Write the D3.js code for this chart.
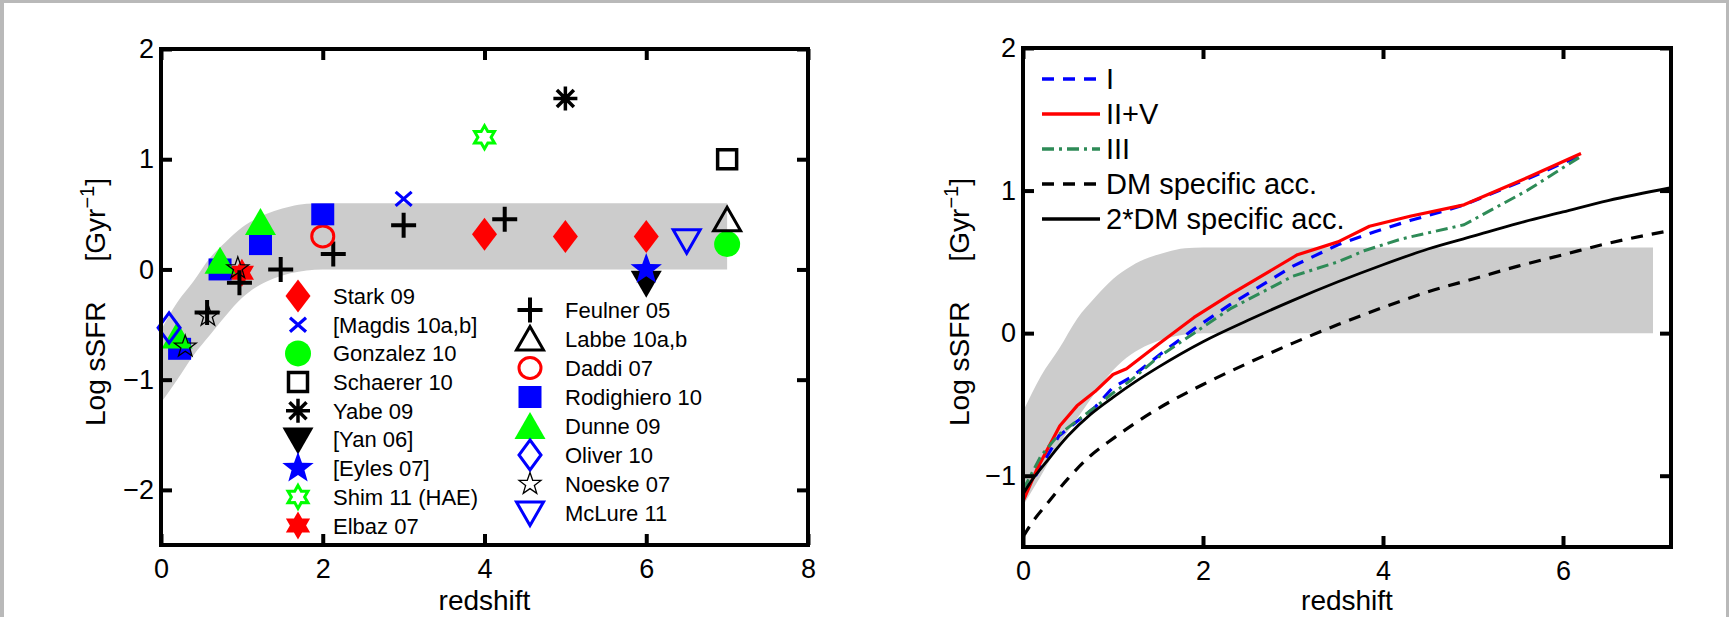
<!DOCTYPE html>
<html><head><meta charset="utf-8">
<script src="https://cdn.jsdelivr.net/npm/d3@7"></script>
<style>
html,body{margin:0;padding:0;background:#fff;}
svg{display:block;font-family:"Liberation Sans",Arial,sans-serif;}
</style></head>
<body>
<svg id="chart" width="1729" height="617"></svg>
<script>
// ---------------- DATA ----------------
// shaded band (same in both panels)
const bandZ  = [0, 0.2, 0.4, 0.6, 0.8, 1.0, 1.2, 1.4, 1.6, 1.8, 2.0, 7.0];
const bandHi = [-0.55, -0.3, -0.11, 0.1, 0.25, 0.38, 0.47, 0.53, 0.57, 0.595, 0.6, 0.6];
const bandLo = [-1.21, -1.0, -0.78, -0.6, -0.42, -0.26, -0.15, -0.08, -0.035, -0.01, 0, 0];

// left panel: observations (redshift, log sSFR)
const starkZ = [4, 5, 6],            starkV = [0.32, 0.30, 0.30];
const magdisZ = [3],                 magdisV = [0.64];
const gonzalezZ = [7],               gonzalezV = [0.23];
const schaererZ = [7],               schaererV = [1.0];
const yabeZ = [5],                   yabeV = [1.55];
const yanZ = [6],                    yanV = [-0.12];
const eylesZ = [6],                  eylesV = [0.0];
const shimZ = [4],                   shimV = [1.2];
const elbazZ = [1.0],                elbazV = [-0.03];
const feulnerZ = [0.57, 0.97, 1.48, 2.13, 3.0, 4.25];
const feulnerV = [-0.39, -0.12, 0.0, 0.14, 0.40, 0.455];
const labbeZ = [7],                  labbeV = [0.45];
const daddiZ = [2],                  daddiV = [0.3];
const rodZ = [0.23, 0.73, 1.23, 2.0], rodV = [-0.72, 0.0, 0.23, 0.5];
const dunneZ = [0.2, 0.73, 1.23],    dunneV = [-0.6, 0.08, 0.43];
const oliverZ = [0.1],               oliverV = [-0.53];
const noeskeZ = [0.3, 0.58, 0.95],   noeskeV = [-0.7, -0.42, 0.01];
const mclureZ = [6.5],               mclureV = [0.26];

const legendCol1 = ["Stark 09", "[Magdis 10a,b]", "Gonzalez 10", "Schaerer 10", "Yabe 09", "[Yan 06]", "[Eyles 07]", "Shim 11 (HAE)", "Elbaz 07"];
const legendCol2 = ["Feulner 05", "Labbe 10a,b", "Daddi 07", "Rodighiero 10", "Dunne 09", "Oliver 10", "Noeske 07", "McLure 11"];

// right panel: model curves
const modelIZ = [0, 0.15, 0.4, 0.8, 1.0, 1.2, 1.5, 1.9, 2.3, 3.0, 3.5, 3.9, 4.3, 4.7, 4.9, 5.6, 6.2];
const modelIV = [-1.12, -0.99, -0.72, -0.52, -0.38, -0.31, -0.16, 0.03, 0.2, 0.47, 0.62, 0.71, 0.79, 0.86, 0.9, 1.08, 1.25];
const modelIIZ = [0, 0.15, 0.41, 0.6, 0.8, 1.0, 1.15, 1.5, 1.9, 2.3, 3.05, 3.5, 3.85, 4.3, 4.9, 5.6, 6.2];
const modelIIV = [-1.18, -0.96, -0.65, -0.51, -0.41, -0.29, -0.25, -0.08, 0.11, 0.27, 0.55, 0.64, 0.75, 0.82, 0.9, 1.09, 1.26];
const modelIIIZ = [0, 0.2, 0.4, 0.8, 1.0, 1.2, 1.5, 1.9, 2.3, 3.0, 3.5, 3.8, 4.2, 4.9, 5.6, 6.2];
const modelIIIV = [-1.1, -0.86, -0.71, -0.52, -0.42, -0.33, -0.17, 0.0, 0.17, 0.4, 0.5, 0.58, 0.66, 0.76, 1.0, 1.24];
const dmZ  = [0, 0.1, 0.25, 0.5, 0.75, 1.0, 1.25, 1.5, 2.0, 2.5, 3.0, 3.5, 4.0, 4.5, 5.0, 5.5, 6.0, 6.5, 7.2];
const dmV  = [-1.43, -1.33, -1.21, -1.02, -0.86, -0.74, -0.63, -0.53, -0.36, -0.21, -0.07, 0.06, 0.18, 0.29, 0.38, 0.47, 0.55, 0.63, 0.72];
const dm2V = [-1.13, -1.03, -0.91, -0.72, -0.57, -0.45, -0.34, -0.24, -0.06, 0.09, 0.23, 0.36, 0.48, 0.59, 0.68, 0.77, 0.85, 0.93, 1.02];
const modelNames = ["I", "II+V", "III", "DM specific acc.", "2*DM specific acc."];

const leftXTicks = [0, 2, 4, 6, 8], leftYTicks = [-2, -1, 0, 1, 2];
const rightXTicks = [0, 2, 4, 6],   rightYTicks = [-1, 0, 1, 2];

// ---------------- DRAW ----------------
const svg = d3.select("#chart");
const RED = "#ff0000", BLUE = "#0000ff", GREEN = "#00ff00", BLACK = "#000000";
const FONT = "'Liberation Sans', Arial, sans-serif";

svg.append("rect").attr("width", 1729).attr("height", 617).attr("fill", "#fff");
svg.append("rect").attr("x", 0).attr("y", 0).attr("width", 1729).attr("height", 3).attr("fill", "#b9b9b9");
svg.append("rect").attr("x", 0).attr("y", 0).attr("width", 4).attr("height", 617).attr("fill", "#b9b9b9");
svg.append("rect").attr("x", 1726).attr("y", 0).attr("width", 3).attr("height", 617).attr("fill", "#b9b9b9");

const fmt = d => d < 0 ? "\u2212" + Math.abs(d) : String(d);

function starPath(n, R, r) {
  const pts = [];
  for (let i = 0; i < 2 * n; i++) {
    const a = -Math.PI / 2 + i * Math.PI / n;
    const rr = i % 2 === 0 ? R : r;
    pts.push([rr * Math.cos(a), rr * Math.sin(a)]);
  }
  return "M" + pts.map(p => p[0].toFixed(2) + "," + p[1].toFixed(2)).join("L") + "Z";
}

const markers = {
  dF: (g, c) => g.append("path").attr("d", "M0,-16.5L12.5,0L0,16.5L-12.5,0Z").attr("fill", c),
  dO: (g, c) => g.append("path").attr("d", "M0,-15L11,0L0,15L-11,0Z").attr("fill", "none").attr("stroke", c).attr("stroke-width", 3),
  x: (g, c) => g.append("path").attr("d", "M-8,-7L8,7M-8,7L8,-7").attr("stroke", c).attr("stroke-width", 3.2),
  oF: (g, c) => g.append("circle").attr("r", 13).attr("fill", c),
  oO: (g, c) => g.append("ellipse").attr("rx", 11).attr("ry", 10.5).attr("fill", "none").attr("stroke", c).attr("stroke-width", 3),
  sO: (g, c) => g.append("path").attr("d", "M-9.5,-9.5h19v19h-19Z").attr("fill", "none").attr("stroke", c).attr("stroke-width", 3.5),
  sF: (g, c) => g.append("path").attr("d", "M-11.5,-11h23v22h-23Z").attr("fill", c),
  ast: (g, c) => g.append("path").attr("d", "M0,-12V12M-12,0H12M-8.5,-8.5L8.5,8.5M-8.5,8.5L8.5,-8.5").attr("stroke", c).attr("stroke-width", 3.5),
  vF: (g, c) => g.append("path").attr("d", "M-15.5,-12L15.5,-12L0,15Z").attr("fill", c),
  vO: (g, c) => g.append("path").attr("d", "M-13.5,-11L13.5,-11L0,12.5Z").attr("fill", "none").attr("stroke", c).attr("stroke-width", 3),
  uF: (g, c) => g.append("path").attr("d", "M-15.5,13L15.5,13L0,-14Z").attr("fill", c),
  uO: (g, c) => g.append("path").attr("d", "M-13.5,11L13.5,11L0,-12.5Z").attr("fill", "none").attr("stroke", c).attr("stroke-width", 3),
  pF: (g, c) => g.append("path").attr("d", starPath(5, 16.5, 6.8)).attr("fill", c),
  pO: (g, c) => g.append("path").attr("d", starPath(5, 11.5, 4.6)).attr("fill", "none").attr("stroke", c).attr("stroke-width", 1.3),
  hF: (g, c) => g.append("path").attr("d", starPath(6, 14, 8.1)).attr("fill", c),
  hO: (g, c) => g.append("path").attr("d", starPath(6, 11.5, 6.6)).attr("fill", "none").attr("stroke", c).attr("stroke-width", 3),
  plus: (g, c) => g.append("path").attr("d", "M-12.5,0H12.5M0,-12.5V12.5").attr("stroke", c).attr("stroke-width", 4)
};

const leftSeries = [
  { name: legendCol1[0], z: starkZ, v: starkV, m: "dF", c: RED },
  { name: legendCol1[1], z: magdisZ, v: magdisV, m: "x", c: BLUE },
  { name: legendCol1[2], z: gonzalezZ, v: gonzalezV, m: "oF", c: GREEN },
  { name: legendCol1[3], z: schaererZ, v: schaererV, m: "sO", c: BLACK },
  { name: legendCol1[4], z: yabeZ, v: yabeV, m: "ast", c: BLACK },
  { name: legendCol1[5], z: yanZ, v: yanV, m: "vF", c: BLACK },
  { name: legendCol1[6], z: eylesZ, v: eylesV, m: "pF", c: BLUE },
  { name: legendCol1[7], z: shimZ, v: shimV, m: "hO", c: GREEN },
  { name: legendCol1[8], z: elbazZ, v: elbazV, m: "hF", c: RED },
  { name: legendCol2[0], z: feulnerZ, v: feulnerV, m: "plus", c: BLACK },
  { name: legendCol2[1], z: labbeZ, v: labbeV, m: "uO", c: BLACK },
  { name: legendCol2[2], z: daddiZ, v: daddiV, m: "oO", c: RED },
  { name: legendCol2[3], z: rodZ, v: rodV, m: "sF", c: BLUE },
  { name: legendCol2[4], z: dunneZ, v: dunneV, m: "uF", c: GREEN },
  { name: legendCol2[5], z: oliverZ, v: oliverV, m: "dO", c: BLUE },
  { name: legendCol2[6], z: noeskeZ, v: noeskeV, m: "pO", c: BLACK },
  { name: legendCol2[7], z: mclureZ, v: mclureV, m: "vO", c: BLUE }
];

function drawAxes(g, x, y, xt, yt) {
  const [x0, x1] = x.range(), [y0, y1] = y.range();
  const styleAxis = (sel, labels) => {
    sel.select(".domain").remove();
    sel.selectAll(".tick line").attr("stroke", "#000").attr("stroke-width", 4);
    sel.selectAll(".tick text").attr("fill", "#000").style("font-family", FONT).style("font-size", labels ? "27px" : "0px");
  };
  g.append("g").attr("transform", `translate(0,${y0})`)
    .call(d3.axisBottom(x).tickValues(xt).tickFormat(fmt).tickSizeInner(-11).tickSizeOuter(0).tickPadding(14))
    .call(s => styleAxis(s, true));
  g.append("g").attr("transform", `translate(0,${y1})`)
    .call(d3.axisTop(x).tickValues(xt).tickFormat(() => "").tickSizeInner(-11).tickSizeOuter(0))
    .call(s => styleAxis(s, false));
  g.append("g").attr("transform", `translate(${x0},0)`)
    .call(d3.axisLeft(y).tickValues(yt).tickFormat(fmt).tickSizeInner(-11).tickSizeOuter(0).tickPadding(7))
    .call(s => styleAxis(s, true));
  g.append("g").attr("transform", `translate(${x1},0)`)
    .call(d3.axisRight(y).tickValues(yt).tickFormat(() => "").tickSizeInner(-11).tickSizeOuter(0))
    .call(s => styleAxis(s, false));
  g.append("rect").attr("x", x0).attr("y", y1).attr("width", x1 - x0).attr("height", y0 - y1)
    .attr("fill", "none").attr("stroke", "#000").attr("stroke-width", 4);
}

function axisLabels(g, x, y, ylx) {
  const [x0, x1] = x.range();
  g.append("text").attr("x", (x0 + x1) / 2).attr("y", 610).attr("text-anchor", "middle")
    .style("font-family", FONT).style("font-size", "28px").text("redshift");
  const t = g.append("text").attr("transform", `translate(${ylx},302) rotate(-90)`).attr("text-anchor", "middle")
    .style("font-family", FONT).style("font-size", "28px");
  t.append("tspan").text("Log sSFR");
  t.append("tspan").attr("dx", 40).text("[Gyr");
  t.append("tspan").attr("dy", -11).style("font-size", "20px").text("\u22121");
  t.append("tspan").attr("dy", 11).text("]");
}

function drawBand(g, x, y) {
  const pts = bandZ.map((z, i) => ({ z, lo: bandLo[i], hi: bandHi[i] }));
  g.append("path").datum(pts)
    .attr("d", d3.area().x(d => x(d.z)).y0(d => y(d.lo)).y1(d => y(d.hi)).curve(d3.curveMonotoneX))
    .attr("fill", "#cccccc");
}

// ----- LEFT PANEL -----
const xL = d3.scaleLinear().domain([0, 8]).range([161, 808]);
const yL = d3.scaleLinear().domain([-2.5, 2]).range([545, 49]);
const gL = svg.append("g");
drawBand(gL, xL, yL);

leftSeries.forEach(s => {
  s.z.forEach((z, i) => {
    const g = gL.append("g").attr("transform", `translate(${xL(z)},${yL(s.v[i])})`);
    markers[s.m](g, s.c);
  });
});

// legend
leftSeries.forEach((s, i) => {
  const col2 = i >= legendCol1.length;
  const k = col2 ? i - legendCol1.length : i;
  const mx = col2 ? 530 : 298, tx = col2 ? 565 : 333;
  const yy = col2 ? 310 + k * 29 : 296 + k * 28.7;
  const g = gL.append("g").attr("transform", `translate(${mx},${yy})`);
  markers[s.m](g, s.c);
  gL.append("text").attr("x", tx).attr("y", yy).attr("dy", "0.36em")
    .style("font-family", FONT).style("font-size", "22px").text(s.name);
});

drawAxes(gL, xL, yL, leftXTicks, leftYTicks);
axisLabels(gL, xL, yL, 105);

// ----- RIGHT PANEL -----
const xR = d3.scaleLinear().domain([0, 7.2]).range([1023, 1671]);
const yR = d3.scaleLinear().domain([-1.5, 2]).range([547, 48]);
const gR = svg.append("g");
svg.append("defs").append("clipPath").attr("id", "clipR").append("rect")
  .attr("x", 1023).attr("y", 48).attr("width", 648).attr("height", 499);
drawBand(gR, xR, yR);

const models = [
  { name: modelNames[0], z: modelIZ, v: modelIV, c: BLUE, w: 3.2, dash: "12,9", smooth: false },
  { name: modelNames[1], z: modelIIZ, v: modelIIV, c: RED, w: 3.2, dash: null, smooth: false },
  { name: modelNames[2], z: modelIIIZ, v: modelIIIV, c: "#2e8b57", w: 3, dash: "12,5,3,5", smooth: false },
  { name: modelNames[3], z: dmZ, v: dmV, c: BLACK, w: 3.2, dash: "12,9", smooth: true },
  { name: modelNames[4], z: dmZ, v: dm2V, c: BLACK, w: 2.8, dash: null, smooth: true }
];
const gLines = gR.append("g").attr("clip-path", "url(#clipR)");
models.forEach(m => {
  const lineGen = d3.line().x(d => xR(d[0])).y(d => yR(d[1]))
    .curve(m.smooth ? d3.curveMonotoneX : d3.curveLinear);
  gLines.append("path").datum(m.z.map((z, i) => [z, m.v[i]]))
    .attr("d", lineGen).attr("fill", "none").attr("stroke", m.c).attr("stroke-width", m.w)
    .attr("stroke-dasharray", m.dash).attr("stroke-linejoin", "round");
});

// right legend
models.forEach((m, i) => {
  const yy = 79 + i * 35;
  gR.append("line").attr("x1", 1042).attr("x2", 1100).attr("y1", yy).attr("y2", yy)
    .attr("stroke", m.c).attr("stroke-width", m.w + 0.5).attr("stroke-dasharray", m.dash);
  gR.append("text").attr("x", 1106).attr("y", yy).attr("dy", "0.36em")
    .style("font-family", FONT).style("font-size", "29px").text(m.name);
});

drawAxes(gR, xR, yR, rightXTicks, rightYTicks);
axisLabels(gR, xR, yR, 969);
</script>
</body></html>
